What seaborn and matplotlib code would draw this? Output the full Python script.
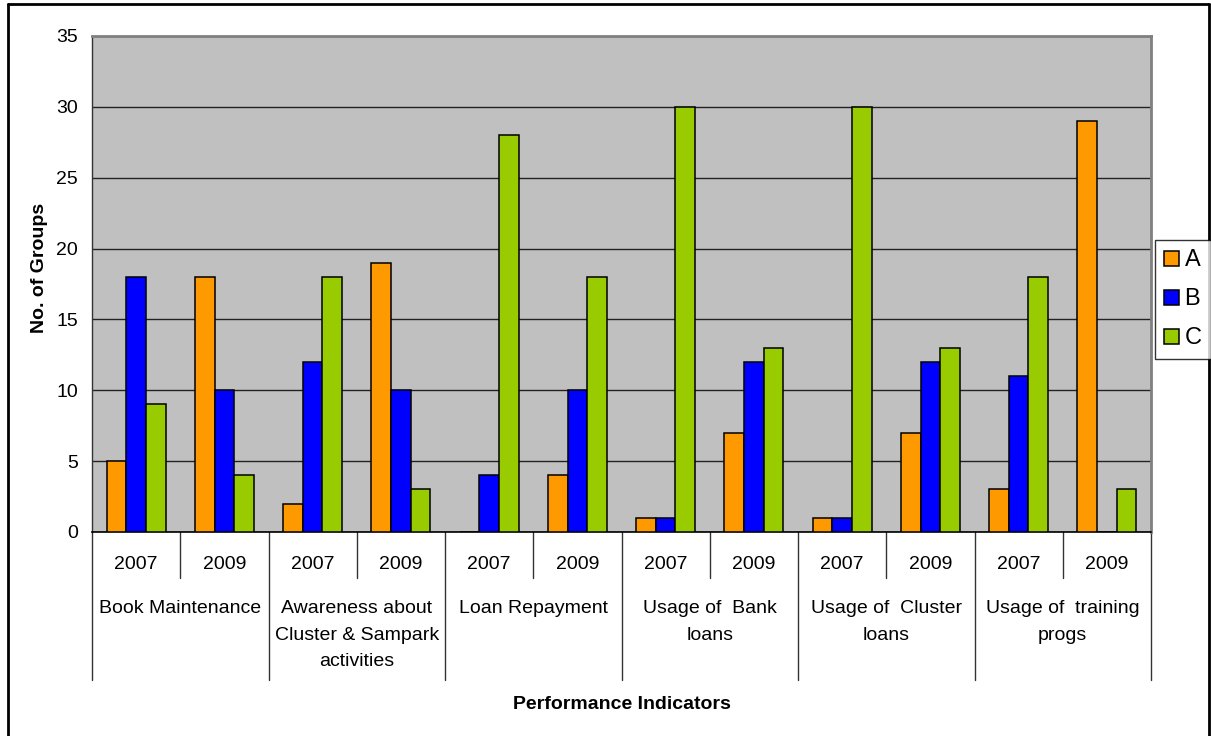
import matplotlib
matplotlib.use("Agg")
import matplotlib.pyplot as plt
import matplotlib.transforms as mtransforms
from matplotlib.lines import Line2D
import pandas as pd
import seaborn as sns

# Performance indicators and survey years
indicators = [
    "Book Maintenance",
    "Awareness about\nCluster & Sampark\nactivities",
    "Loan Repayment",
    "Usage of  Bank\nloans",
    "Usage of  Cluster\nloans",
    "Usage of  training\nprogs",
]
years = ["2007", "2009"]
series = ["A", "B", "C"]

# Number of groups per grade, one value per indicator/year slot
grade_a = [5, 18, 2, 19, 0, 4, 1, 7, 1, 7, 3, 29]
grade_b = [18, 10, 12, 10, 4, 10, 1, 12, 1, 12, 11, 0]
grade_c = [9, 4, 18, 3, 28, 18, 30, 13, 30, 13, 18, 3]

colors = ["#FF9900", "#0000FF", "#99CC00"]

slots = [f"{ind}|{yr}" for ind in indicators for yr in years]
rows = []
for name, vals in zip(series, [grade_a, grade_b, grade_c]):
    for slot, v in zip(slots, vals):
        rows.append({"slot": slot, "grade": name, "groups": v})
df = pd.DataFrame(rows)

sns.set_style("white")
plt.rcParams["font.family"] = ["Liberation Sans", "DejaVu Sans"]
plt.rcParams["text.color"] = "black"
plt.rcParams["axes.labelcolor"] = "black"
plt.rcParams["ytick.color"] = "black"

fig = plt.figure(figsize=(12.11, 7.36), dpi=100)
ax = fig.add_axes([92 / 1211, 1 - 532 / 736, (1151 - 92) / 1211, (532 - 36) / 736])
ax.set_facecolor("#C0C0C0")

sns.barplot(data=df, x="slot", y="groups", hue="grade", order=slots,
            hue_order=series, palette=colors, saturation=1, width=0.67,
            edgecolor="black", linewidth=1.1, ax=ax, zorder=3)

ax.set_ylim(0, 35)
ax.set_xlim(-0.5, len(slots) - 0.5)
ax.set_yticks(range(0, 36, 5))
ax.yaxis.grid(True, color="#222222", linewidth=1.0, zorder=0)
ax.set_axisbelow(True)
ax.tick_params(axis="y", length=6, width=1, color="black", labelsize=14, pad=4)
ax.set_xticks([])
ax.set_xlabel("")

for s in ["top", "right"]:
    ax.spines[s].set_color("#808080")
    ax.spines[s].set_linewidth(2)
ax.spines["left"].set_color("#333333")
ax.spines["bottom"].set_color("black")
ax.spines["left"].set_linewidth(1)
ax.spines["bottom"].set_linewidth(1.2)

ax.set_ylabel("No. of Groups", fontsize=14, fontweight="bold")
ax.yaxis.set_label_coords(-0.0415, 0.532)

# Two-level category axis: years, then indicators
trans = mtransforms.blended_transform_factory(ax.transData, ax.transAxes)
for i, slot in enumerate(slots):
    yr = slot.split("|")[1]
    ax.text(i, -0.065, yr, transform=trans, ha="center", va="center",
            fontsize=14, clip_on=False)
for g, ind in enumerate(indicators):
    left = 2 * g - 0.5
    ax.add_line(Line2D([left + 1, left + 1], [0, -0.093], transform=trans,
                       color="#333333", linewidth=1, clip_on=False))
    ax.text(left + 1, -0.137, ind, transform=trans, ha="center", va="top",
            fontsize=14, linespacing=1.75, clip_on=False)
for g in range(len(indicators) + 1):
    x = 2 * g - 0.5
    ax.add_line(Line2D([x, x], [0, -0.298], transform=trans,
                       color="#333333", linewidth=1, clip_on=False))

ax.text(0.5, -0.347, "Performance Indicators", transform=ax.transAxes,
        ha="center", va="center", fontsize=14, fontweight="bold")

# Legend at the right edge
handles, labels = ax.get_legend_handles_labels()
ax.get_legend().remove()
leg = fig.legend(handles, labels, loc="upper left",
                 bbox_to_anchor=(1155 / 1211, 1 - 240 / 736),
                 fontsize=17, frameon=True, fancybox=False,
                 handlelength=0.6, handleheight=0.6, handletextpad=0.25,
                 borderpad=0.4, labelspacing=0.72, borderaxespad=0)
leg.get_frame().set_edgecolor("black")
leg.get_frame().set_linewidth(1)

# Outer frame around the chart
for xs, ys in [([8, 8], [4, 740]), ([1209, 1209], [4, 740]), ([8, 1209], [4, 4])]:
    fig.add_artist(Line2D([x / 1211 for x in xs], [1 - y / 736 for y in ys],
                          transform=fig.transFigure, color="black", linewidth=2))

fig.savefig("out.png", dpi=100)
